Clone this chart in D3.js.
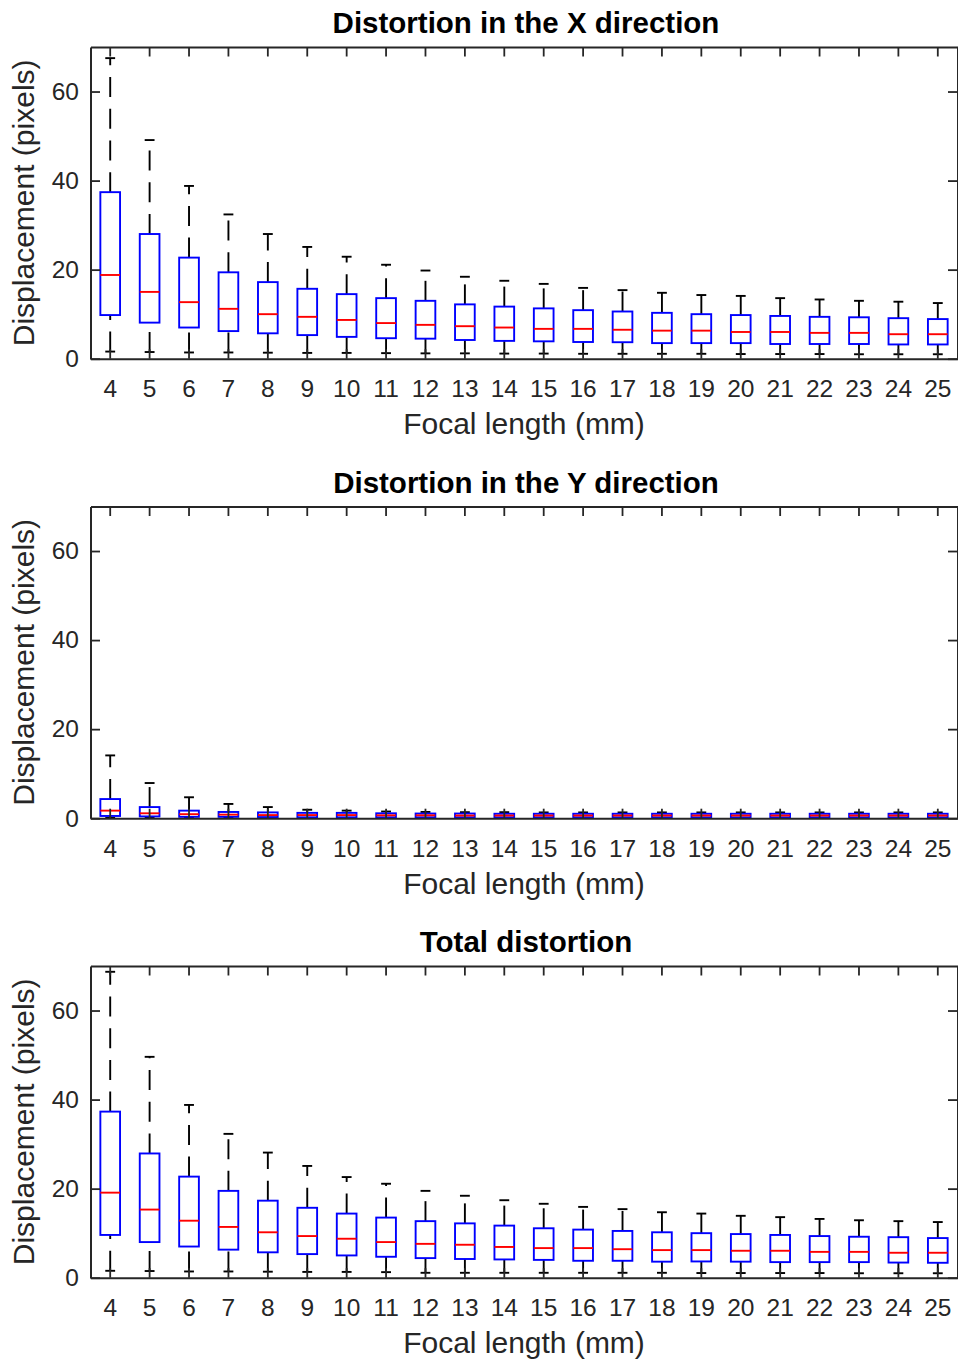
<!DOCTYPE html>
<html>
<head>
<meta charset="utf-8">
<script src="https://cdn.jsdelivr.net/npm/d3@7"></script>
<style>
  body { margin: 0; background: #fff; }
  text { font-family: "Liberation Sans", Arial, Helvetica, sans-serif; }
</style>
</head>
<body>
<div id="chart"></div>
<script>
// Focal lengths (mm) on the x axis
var focalLengths = [4, 5, 6, 7, 8, 9, 10, 11, 12, 13, 14, 15, 16, 17, 18, 19, 20, 21, 22, 23, 24, 25];
var yTicks = [0, 20, 40, 60];

// Distortion in X: whisker ends, quartiles, median (pixels)
var xUpper = [67.5, 49.1, 38.8, 32.4, 28.0, 25.1, 22.9, 21.1, 19.8, 18.4, 17.5, 16.8, 15.9, 15.4, 14.8, 14.3, 14.1, 13.6, 13.3, 13.0, 12.8, 12.5];
var xQ3 = [37.4, 28.0, 22.7, 19.4, 17.2, 15.7, 14.5, 13.6, 13.0, 12.2, 11.7, 11.3, 10.9, 10.6, 10.3, 10.0, 9.8, 9.6, 9.4, 9.3, 9.1, 8.9];
var xMedian = [18.8, 15.0, 12.7, 11.2, 10.0, 9.4, 8.7, 8.0, 7.6, 7.3, 7.0, 6.7, 6.7, 6.5, 6.3, 6.3, 6.0, 6.0, 5.8, 5.8, 5.5, 5.5];
var xQ1 = [9.8, 8.1, 7.0, 6.2, 5.7, 5.3, 4.9, 4.6, 4.5, 4.2, 4.0, 3.9, 3.75, 3.7, 3.5, 3.5, 3.5, 3.3, 3.3, 3.3, 3.2, 3.2];
var xLower = [1.6, 1.5, 1.4, 1.4, 1.35, 1.3, 1.3, 1.25, 1.2, 1.2, 1.15, 1.15, 1.1, 1.1, 1.1, 1.1, 1.05, 1.05, 1.05, 1.0, 1.0, 1.0];

// Distortion in Y
var yUpper = [14.1, 7.9, 4.7, 3.2, 2.5, 1.9, 1.7, 1.5, 1.4, 1.35, 1.35, 1.3, 1.3, 1.3, 1.3, 1.3, 1.3, 1.3, 1.3, 1.3, 1.3, 1.3];
var yQ3 = [4.3, 2.5, 1.7, 1.4, 1.3, 1.2, 1.2, 1.1, 1.05, 1.05, 1.0, 1.0, 1.0, 1.0, 1.0, 1.0, 1.0, 1.0, 1.0, 1.0, 1.0, 1.0];
var yMedian = [1.7, 1.1, 0.9, 0.8, 0.7, 0.7, 0.7, 0.65, 0.65, 0.6, 0.6, 0.6, 0.6, 0.6, 0.6, 0.6, 0.6, 0.6, 0.6, 0.6, 0.6, 0.6];
var yQ1 = [0.5, 0.4, 0.3, 0.3, 0.25, 0.2, 0.2, 0.2, 0.2, 0.2, 0.2, 0.2, 0.2, 0.2, 0.2, 0.2, 0.2, 0.2, 0.2, 0.2, 0.2, 0.2];
var yLower = [0.05, 0.05, 0.05, 0.05, 0.05, 0.05, 0.05, 0.05, 0.05, 0.05, 0.05, 0.05, 0.05, 0.05, 0.05, 0.05, 0.05, 0.05, 0.05, 0.05, 0.05, 0.05];

// Total distortion
var tUpper = [68.7, 49.6, 38.8, 32.3, 28.1, 25.1, 22.6, 21.1, 19.5, 18.4, 17.4, 16.6, 15.9, 15.4, 14.7, 14.4, 13.9, 13.6, 13.2, 12.9, 12.7, 12.5];
var tQ3 = [37.3, 27.9, 22.7, 19.5, 17.3, 15.7, 14.4, 13.5, 12.7, 12.2, 11.7, 11.1, 10.8, 10.5, 10.2, 10.0, 9.8, 9.6, 9.35, 9.2, 9.1, 8.9];
var tMedian = [19.1, 15.3, 12.8, 11.4, 10.2, 9.35, 8.75, 8.0, 7.6, 7.4, 6.9, 6.65, 6.65, 6.4, 6.2, 6.2, 6.05, 6.05, 5.8, 5.8, 5.6, 5.6];
var tQ1 = [9.6, 8.0, 7.0, 6.3, 5.7, 5.3, 5.0, 4.7, 4.4, 4.2, 4.1, 4.0, 3.8, 3.8, 3.6, 3.65, 3.6, 3.5, 3.5, 3.5, 3.4, 3.35];
var tLower = [1.55, 1.5, 1.4, 1.4, 1.35, 1.3, 1.3, 1.25, 1.1, 1.1, 1.1, 1.1, 1.1, 1.1, 1.1, 1.05, 1.05, 1.05, 1.05, 1.0, 1.0, 1.0];

var panels = [
    { title: 'Distortion in the X direction', upper: xUpper, q3: xQ3, median: xMedian, q1: xQ1, lower: xLower },
    { title: 'Distortion in the Y direction', upper: yUpper, q3: yQ3, median: yMedian, q1: yQ1, lower: yLower },
    { title: 'Total distortion', upper: tUpper, q3: tQ3, median: tMedian, q1: tQ1, lower: tLower }
];

var svgWidth = 958;
var svgHeight = 1362;
var axisColor = '#262626';

var svg = d3.select('#chart')
    .append('svg')
    .attr('width', svgWidth)
    .attr('height', svgHeight);

var left = 90.5, right = 957.5;
var plotHeight = 311.7;
var panelTop = [47, 506.5, 966];
var tickLen = 9.5;

var xScale = d3.scaleBand()
    .domain(focalLengths)
    .range([left, right])
    .paddingInner(0)
    .paddingOuter(0);

var boxWidth = xScale.bandwidth() * 0.5;
var capWidth = boxWidth * 0.5;
var cx = function(i) { return xScale(focalLengths[i]) + xScale.bandwidth() / 2; };

panels.forEach(function(p, k) {
    var top = panelTop[k];
    var bottom = top + plotHeight;

    var yScale = d3.scaleLinear()
        .domain([0, 70])
        .range([bottom, top]);

    var g = svg.append('g');

    // Boxes
    var rows = focalLengths.map(function(f, i) {
        return { i: i, upper: p.upper[i], q3: p.q3[i], median: p.median[i], q1: p.q1[i], lower: p.lower[i] };
    });

    var box = g.selectAll('g.box')
        .data(rows)
        .enter()
        .append('g')
        .attr('class', 'box');

    // whiskers, dashed, drawn upwards
    box.append('line')
        .attr('x1', d => cx(d.i)).attr('x2', d => cx(d.i))
        .attr('y1', d => yScale(d.q3)).attr('y2', d => yScale(d.upper))
        .attr('stroke', '#000').attr('stroke-width', 1.9)
        .attr('stroke-dasharray', '20,11.7');

    box.append('line')
        .attr('x1', d => cx(d.i)).attr('x2', d => cx(d.i))
        .attr('y1', d => yScale(d.lower)).attr('y2', d => yScale(d.q1))
        .attr('stroke', '#000').attr('stroke-width', 1.9)
        .attr('stroke-dasharray', '20,11.7');

    // caps
    ['upper', 'lower'].forEach(function(key) {
        box.append('line')
            .attr('x1', d => cx(d.i) - capWidth / 2).attr('x2', d => cx(d.i) + capWidth / 2)
            .attr('y1', d => yScale(d[key])).attr('y2', d => yScale(d[key]))
            .attr('stroke', '#000').attr('stroke-width', 1.9);
    });

    box.append('rect')
        .attr('x', d => cx(d.i) - boxWidth / 2)
        .attr('width', boxWidth)
        .attr('y', d => yScale(d.q3))
        .attr('height', d => yScale(d.q1) - yScale(d.q3))
        .attr('fill', 'none')
        .attr('stroke', '#0000ff')
        .attr('stroke-width', 1.9);

    box.append('line')
        .attr('x1', d => cx(d.i) - boxWidth / 2).attr('x2', d => cx(d.i) + boxWidth / 2)
        .attr('y1', d => yScale(d.median)).attr('y2', d => yScale(d.median))
        .attr('stroke', '#ff0000').attr('stroke-width', 1.9);

    // Axes, ticks pointing inside
    var bottomAxis = d3.axisBottom(xScale).tickSizeInner(-tickLen).tickSizeOuter(0).tickPadding(21);
    var topAxis = d3.axisTop(xScale).tickSizeInner(-tickLen).tickSizeOuter(0).tickFormat('');
    var leftAxis = d3.axisLeft(yScale).tickValues(yTicks).tickSizeInner(-tickLen).tickSizeOuter(0).tickPadding(11.5);
    var rightAxis = d3.axisRight(yScale).tickValues(yTicks).tickSizeInner(-tickLen).tickSizeOuter(0).tickFormat('');

    var axes = [
        g.append('g').attr('transform', `translate(0, ${bottom})`).call(bottomAxis),
        g.append('g').attr('transform', `translate(0, ${top})`).call(topAxis),
        g.append('g').attr('transform', `translate(${left}, 0)`).call(leftAxis),
        g.append('g').attr('transform', `translate(${right}, 0)`).call(rightAxis)
    ];

    axes.forEach(function(a) {
        a.select('.domain').attr('stroke', axisColor).attr('stroke-width', 2);
        a.selectAll('.tick line').attr('stroke', axisColor).attr('stroke-width', 1.8);
        a.selectAll('.tick text')
            .attr('fill', axisColor)
            .style('font-size', '24.5px')
            .style('font-family', '"Liberation Sans", Arial, sans-serif');
    });

    // Labels
    g.append('text')
        .attr('x', (left + right) / 2 + 2)
        .attr('y', top - 13.7)
        .attr('text-anchor', 'middle')
        .style('font-size', '29.5px')
        .style('font-weight', 'bold')
        .attr('fill', '#000')
        .text(p.title);

    g.append('text')
        .attr('x', (left + right) / 2)
        .attr('y', bottom + 75.3)
        .attr('text-anchor', 'middle')
        .style('font-size', '30px')
        .attr('fill', axisColor)
        .text('Focal length (mm)');

    g.append('text')
        .attr('transform', `translate(34, ${(top + bottom) / 2}) rotate(-90)`)
        .attr('text-anchor', 'middle')
        .style('font-size', '30px')
        .attr('fill', axisColor)
        .text('Displacement (pixels)');
});
</script>
</body>
</html>
